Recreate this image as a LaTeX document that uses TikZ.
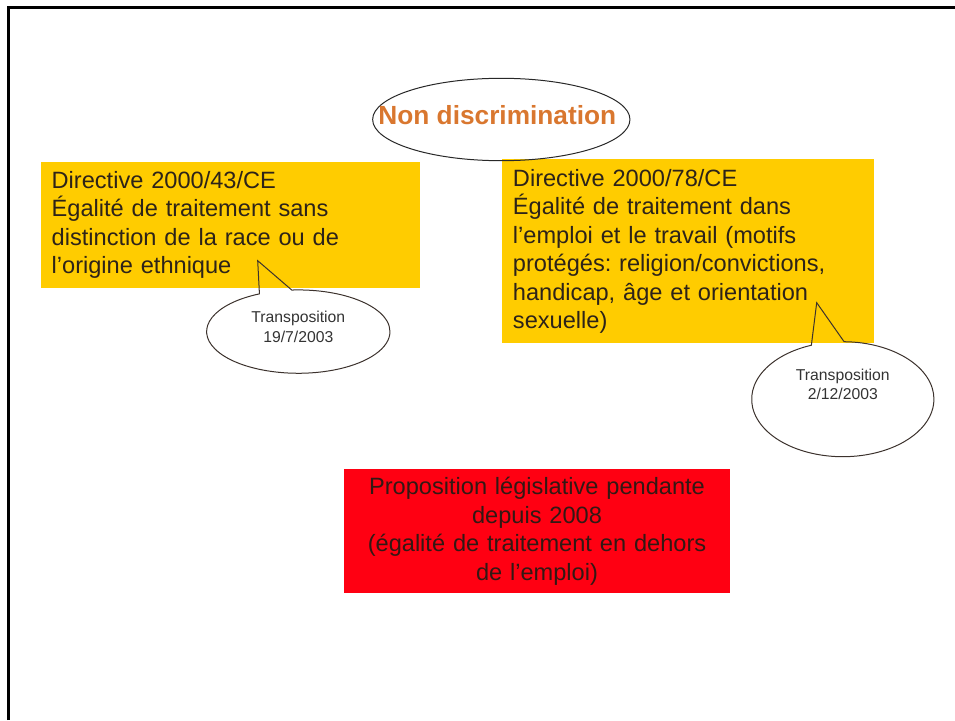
\documentclass[tikz,border=0pt]{standalone}
\usepackage{fontspec}
\setmainfont{Liberation Sans}
\usetikzlibrary{shapes.geometric,shapes.callouts}
\frenchspacing

\tikzset{every picture/.style={line width=0.75pt}}
\tikzset{
  directive/.style={rectangle, fill={rgb, 255:red, 255; green, 204; blue, 0 }, inner xsep=8pt, inner ysep=0pt, align=left, text={rgb, 255:red, 45; green, 35; blue, 25 }, font=\fontsize{17.7}{21.4}\selectfont},
  transpo/.style={ellipse callout, draw={rgb, 255:red, 60; green, 50; blue, 45 }, inner sep=0pt, callout pointer arc=21, align=center, text={rgb, 255:red, 51; green, 51; blue, 51 }, font=\fontsize{11.8}{14.6}\selectfont}
}

\begin{document}
\begin{tikzpicture}[x=0.75pt,y=0.75pt,yscale=-1,xscale=1]
\useasboundingbox (0,0) rectangle (955,720);

%Straight Lines: slide frame
\draw [line width=2.25pt]  (8.5,720) -- (8.5,7.5) -- (955,7.5) ;

%Shape: Rectangle (directive 43)
\draw (230.5,225) node (race) [directive, text width=268.25pt, minimum height=95pt]  {Directive 2000/43/CE\\Égalité de traitement sans\\distinction de la race ou de\\l’origine ethnique};
%Shape: Rectangle (directive 78)
\draw (688.3,251.3) node (emploi) [directive, text width=263pt, minimum height=138pt]  {Directive 2000/78/CE\\Égalité de traitement dans\\l’emploi et le travail (motifs\\protégés: religion/convictions,\\handicap, âge et orientation\\sexuelle)};
%Shape: Rectangle (proposition)
\draw (537,531.2) node (proposition) [rectangle, fill={rgb, 255:red, 255; green, 0; blue, 18 }, inner sep=0pt, text width=289.5pt, minimum height=93.2pt, align=center, text={rgb, 255:red, 50; green, 25; blue, 20 }, font=\fontsize{17.7}{21.4}\selectfont]  {Proposition législative pendante\\depuis 2008\\(égalité de traitement en dehors\\de l’emploi)};

%Shape: Ellipse (title)
\draw (501.3,119.5) node (nondisc) [ellipse, draw={rgb, 255:red, 40; green, 40; blue, 40 }, inner sep=0pt, minimum width=193pt, minimum height=61.8pt, text depth=7.3pt, text={rgb, 255:red, 217; green, 119; blue, 47 }, font=\fontsize{19.7}{23.6}\selectfont\bfseries]  {\makebox[0pt]{\hspace*{-6pt}Non discrimination}};

%Shape: Callouts
\draw (298.3,331.6) node (transpoA) [transpo, minimum width=137.5pt, minimum height=62.5pt, text depth=7.25pt, callout absolute pointer={(257.7,260.7)}]  {Transposition\\19/7/2003};
\draw (842.8,399.2) node (transpoB) [transpo, minimum width=136.7pt, minimum height=86.25pt, text depth=22.65pt, callout absolute pointer={(816.7,302.7)}]  {Transposition\\2/12/2003};

\end{tikzpicture}
\end{document}
